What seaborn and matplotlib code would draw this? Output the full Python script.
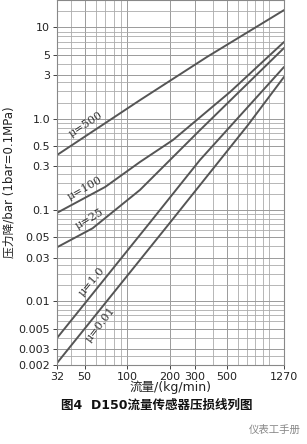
import numpy as np
import pandas as pd
import matplotlib
matplotlib.use("Agg")
import matplotlib.pyplot as plt
from matplotlib.ticker import FixedLocator, LogLocator, NullFormatter
import seaborn as sns

# ---- data ----
mu_labels = ["μ=500", "μ=100", "μ=25", "μ=1.0", "μ=0.01"]
flow_500 = [32, 123, 364, 1270]
dp_500 = [0.40, 1.60, 4.75, 15.5]
flow_100 = [32, 70, 123, 210, 529, 1270]
dp_100 = [0.093, 0.179, 0.336, 0.585, 1.96, 6.93]
flow_25 = [32, 57, 123, 325, 1270]
dp_25 = [0.039, 0.063, 0.166, 0.75, 5.96]
flow_1 = [32, 140, 325, 1270]
dp_1 = [0.00395, 0.0685, 0.353, 3.69]
flow_001 = [32, 194, 708, 1270]
dp_001 = [0.0021, 0.0685, 0.853, 2.87]

x_ticks = [32, 50, 100, 200, 300, 500, 1270]
x_ticklabels = ["32", "50", "100", "200", "300", "500", "1270"]
y_ticks = [10, 5, 3, 1.0, 0.5, 0.3, 0.1, 0.05, 0.03, 0.01, 0.005, 0.003, 0.002]
y_ticklabels = ["10", "5", "3", "1.0", "0.5", "0.3", "0.1", "0.05", "0.03",
                "0.01", "0.005", "0.003", "0.002"]

# label anchor points (data coords) and rotations
label_x = [51.2, 50.4, 54.6, 56.4, 65.3]
label_y = [0.875, 0.174, 0.0796, 0.0163, 0.00548]
label_rot = [33, 29, 30, 50, 52]

series = [(flow_500, dp_500), (flow_100, dp_100), (flow_25, dp_25),
          (flow_1, dp_1), (flow_001, dp_001)]
frames = []
for lab, (fx, fy) in zip(mu_labels, series):
    frames.append(pd.DataFrame({"flow": fx, "dp": fy, "mu": lab}))
df = pd.concat(frames, ignore_index=True)

sns.set_theme(style="white")
plt.rcParams["font.family"] = ["DejaVu Sans", "Noto Sans CJK SC"]

fig = plt.figure(figsize=(3.07, 4.44), dpi=100)
ax = fig.add_axes([57 / 307, 1 - 365 / 444, 227 / 307, 365 / 444])

line_col = "#555555"
sns.lineplot(data=df, x="flow", y="dp", hue="mu", hue_order=mu_labels,
             palette=[line_col] * 5, linewidth=1.4, legend=False, ax=ax,
             sort=False, estimator=None)

ax.set_xscale("log")
ax.set_yscale("log")
ax.set_xlim(32, 1270)
ax.set_ylim(0.002, 20)

ax.xaxis.set_major_locator(FixedLocator(x_ticks))
ax.set_xticklabels(x_ticklabels)
ax.yaxis.set_major_locator(FixedLocator(y_ticks))
ax.set_yticklabels(y_ticklabels)
ax.xaxis.set_minor_locator(LogLocator(base=10, subs=np.arange(1, 10), numticks=20))
ax.yaxis.set_minor_locator(LogLocator(base=10, subs=[1, 1.5, 2, 2.5, 3, 4, 5, 6, 7, 8, 9], numticks=20))
ax.xaxis.set_minor_formatter(NullFormatter())
ax.yaxis.set_minor_formatter(NullFormatter())

ax.grid(which="major", color="#9a9a9a", linewidth=0.7)
ax.grid(which="minor", color="#ababab", linewidth=0.6)
ax.set_axisbelow(True)
for s in ax.spines.values():
    s.set_color("#888888")
    s.set_linewidth(0.8)

ax.tick_params(axis="both", which="major", labelsize=8, colors="#222222",
               length=3, width=0.6, pad=2, direction="out", left=True, bottom=True)
ax.tick_params(axis="both", which="minor", length=0)
ax.tick_params(axis="x", pad=2)

for lab, lx, ly, rot in zip(mu_labels, label_x, label_y, label_rot):
    ax.text(lx, ly, lab, rotation=rot, ha="center", va="center", fontsize=8,
            color="#333333", family=["DejaVu Serif"])

ax.set_xlabel("流量/(kg/min)", fontsize=9, color="#222222", labelpad=-1)
ax.set_ylabel("压力降/bar (1bar=0.1MPa)", fontsize=8.5, color="#222222", labelpad=2)

fig.text(157 / 307, 1 - 405 / 444, "图4  D150流量传感器压损线列图", ha="center",
         va="center", fontsize=9, fontweight="bold", color="#111111")
fig.text(275 / 307, 1 - 430 / 444, "仪表工手册", ha="center", va="center",
         fontsize=7.5, color="#888888")

fig.savefig("out.png", dpi=100)
